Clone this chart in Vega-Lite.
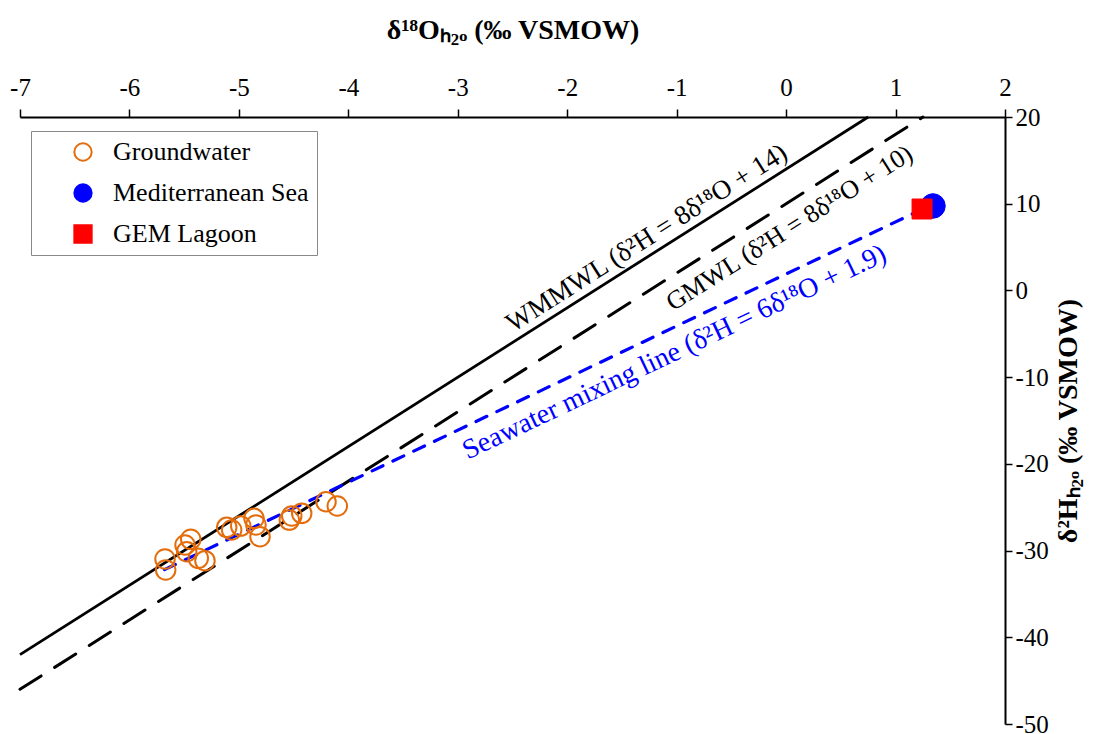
{
  "$schema": "https://vega.github.io/schema/vega-lite/v6.json",
  "autosize": {"type": "none"},
  "width": 985,
  "height": 607,
  "padding": {"left": 20, "top": 117, "right": 97, "bottom": 10},
  "background": "white",
  "config": {
    "view": {"stroke": null},
    "font": "Liberation Serif",
    "axis": {
      "grid": false,
      "labelFont": "Liberation Serif",
      "labelFontSize": 25,
      "labelColor": "black",
      "tickColor": "black",
      "domainColor": "black",
      "domainWidth": 2,
      "tickWidth": 1.5,
      "titleFont": "Liberation Serif",
      "titleFontSize": 28,
      "titleFontWeight": "bold",
      "titleColor": "black"
    },
    "legend": {
      "orient": "none",
      "legendX": 11,
      "legendY": 14,
      "title": null,
      "labelFont": "Liberation Serif",
      "labelFontSize": 26,
      "labelColor": "black",
      "labelLimit": 400,
      "labelExpr": "datum.label + '\u00a0\u00a0\u00a0'",
      "symbolSize": 300,
      "symbolStrokeWidth": 2,
      "strokeColor": "#888888",
      "padding": 8,
      "rowPadding": 15,
      "symbolOffset": 31,
      "labelOffset": 17
    }
  },
  "datasets": {
    "lines": [
      {"line": "WMMWL", "x": -7, "y": -42},
      {"line": "WMMWL", "x": 0.75, "y": 20},
      {"line": "GMWL", "x": -7, "y": -46},
      {"line": "GMWL", "x": 1.25, "y": 20},
      {"line": "Mixing", "x": -5.68, "y": -32.2},
      {"line": "Mixing", "x": 1.25, "y": 9.4}
    ],
    "points": [
      {"type": "Groundwater", "x": -5.675, "y": -30.97},
      {"type": "Groundwater", "x": -5.669, "y": -32.24},
      {"type": "Groundwater", "x": -5.44, "y": -28.7},
      {"type": "Groundwater", "x": -5.492, "y": -29.36},
      {"type": "Groundwater", "x": -5.477, "y": -30.13},
      {"type": "Groundwater", "x": -5.371, "y": -30.89},
      {"type": "Groundwater", "x": -5.31, "y": -31.17},
      {"type": "Groundwater", "x": -5.111, "y": -27.32},
      {"type": "Groundwater", "x": -5.066, "y": -27.63},
      {"type": "Groundwater", "x": -4.983, "y": -27.17},
      {"type": "Groundwater", "x": -4.862, "y": -26.28},
      {"type": "Groundwater", "x": -4.844, "y": -27.05},
      {"type": "Groundwater", "x": -4.807, "y": -28.4},
      {"type": "Groundwater", "x": -4.539, "y": -26.48},
      {"type": "Groundwater", "x": -4.517, "y": -26.01},
      {"type": "Groundwater", "x": -4.426, "y": -25.7},
      {"type": "Groundwater", "x": -4.204, "y": -24.37},
      {"type": "Groundwater", "x": -4.101, "y": -24.86},
      {"type": "Mediterranean Sea", "x": 1.342, "y": 9.74},
      {"type": "GEM Lagoon", "x": 1.242, "y": 9.39}
    ],
    "labels": [
      {"line": "WMMWL", "x": -1.234, "y": 5.24, "text": "WMMWL (δ²H = 8δ¹⁸O + 14)"},
      {"line": "GMWL", "x": 0.07, "y": 6.4, "text": "GMWL (δ²H = 8δ¹⁸O + 10)"},
      {"line": "Mixing", "x": -0.988, "y": -8.0, "text": "Seawater mixing line (δ²H = 6δ¹⁸O + 1.9)"}
    ]
  },
  "encoding": {
    "x": {
      "field": "x",
      "type": "quantitative",
      "scale": {"domain": [-7, 2], "nice": false, "zero": false},
      "axis": {
        "orient": "top",
        "values": [-7, -6, -5, -4, -3, -2, -1, 0, 1, 2],
        "labelExpr": "replace(datum.label, '−', '-')",
        "title": "δ¹⁸Oₕ₂ₒ (‰ VSMOW)",
        "tickSize": 8,
        "labelPadding": 9,
        "titlePadding": 31,
        "labelFlush": false,
        "labelOverlap": false
      }
    },
    "y": {
      "field": "y",
      "type": "quantitative",
      "scale": {"domain": [-50, 20], "nice": false, "zero": false},
      "axis": {
        "orient": "right",
        "values": [-50, -40, -30, -20, -10, 0, 10, 20],
        "labelExpr": "replace(datum.label, '−', '-')",
        "title": "δ²Hₕ₂ₒ (‰ VSMOW)",
        "titleAngle": 270,
        "tickSize": 7,
        "labelPadding": 3,
        "titlePadding": 34,
        "labelOverlap": false
      }
    }
  },
  "layer": [
    {
      "data": {"name": "lines"},
      "transform": [{"filter": "datum.line === 'WMMWL'"}],
      "mark": {"type": "line", "color": "black", "strokeWidth": 2.8}
    },
    {
      "data": {"name": "lines"},
      "transform": [{"filter": "datum.line === 'GMWL'"}],
      "mark": {"type": "line", "color": "black", "strokeWidth": 3, "strokeDash": [25, 16], "strokeCap": "round"}
    },
    {
      "data": {"name": "lines"},
      "transform": [{"filter": "datum.line === 'Mixing'"}],
      "mark": {"type": "line", "color": "#0000FF", "strokeWidth": 3.2, "strokeDash": [12, 11], "strokeCap": "round"}
    },
    {
      "data": {"name": "labels"},
      "transform": [{"filter": "datum.line === 'WMMWL'"}],
      "mark": {"type": "text", "angle": 327.6, "align": "center", "baseline": "alphabetic", "fontSize": 27, "font": "Liberation Serif", "color": "black"},
      "encoding": {"text": {"field": "text"}}
    },
    {
      "data": {"name": "labels"},
      "transform": [{"filter": "datum.line === 'GMWL'"}],
      "mark": {"type": "text", "angle": 327.6, "align": "center", "baseline": "alphabetic", "fontSize": 26, "font": "Liberation Serif", "color": "black"},
      "encoding": {"text": {"field": "text"}}
    },
    {
      "data": {"name": "labels"},
      "transform": [{"filter": "datum.line === 'Mixing'"}],
      "mark": {"type": "text", "angle": 334.6, "align": "center", "baseline": "alphabetic", "fontSize": 28, "font": "Liberation Serif", "color": "#0000FF"},
      "encoding": {"text": {"field": "text"}}
    },
    {
      "data": {"name": "points"},
      "transform": [{"filter": "datum.type === 'Groundwater'"}],
      "mark": {"type": "point", "size": 380, "strokeWidth": 2, "opacity": 1},
      "encoding": {
        "stroke": {"field": "type", "type": "nominal", "scale": {"domain": ["Groundwater", "Mediterranean Sea", "GEM Lagoon"], "range": ["#E46C0A", "#0000FF", "#FF0000"]}},
        "fill": {"field": "type", "type": "nominal", "scale": {"domain": ["Groundwater", "Mediterranean Sea", "GEM Lagoon"], "range": ["transparent", "#0000FF", "#FF0000"]}},
        "shape": {"field": "type", "type": "nominal", "scale": {"domain": ["Groundwater", "Mediterranean Sea", "GEM Lagoon"], "range": ["circle", "circle", "square"]}}
      }
    },
    {
      "data": {"name": "points"},
      "transform": [{"filter": "datum.type === 'Mediterranean Sea'"}],
      "mark": {"type": "point", "size": 600, "strokeWidth": 1, "opacity": 1},
      "encoding": {
        "stroke": {"field": "type", "type": "nominal"},
        "fill": {"field": "type", "type": "nominal"},
        "shape": {"field": "type", "type": "nominal"}
      }
    },
    {
      "data": {"name": "points"},
      "transform": [{"filter": "datum.type === 'GEM Lagoon'"}],
      "mark": {"type": "point", "size": 400, "strokeWidth": 1, "opacity": 1},
      "encoding": {
        "stroke": {"field": "type", "type": "nominal"},
        "fill": {"field": "type", "type": "nominal"},
        "shape": {"field": "type", "type": "nominal"}
      }
    }
  ]
}
